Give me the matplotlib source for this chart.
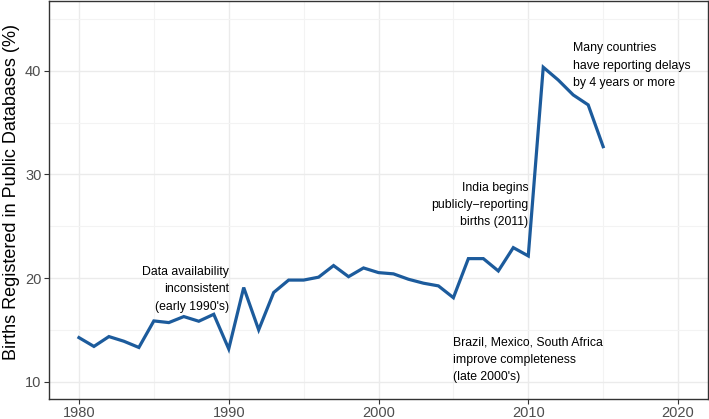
import matplotlib.pyplot as plt
from matplotlib.ticker import MultipleLocator

plt.rcParams["font.family"] = ["Liberation Sans", "DejaVu Sans"]

years = list(range(1980, 2016))
births_pct = [
    14.25, 13.4, 14.35, 13.9, 13.3, 15.86, 15.7, 16.28, 15.83, 16.5,
    13.16, 19.08, 15.0, 18.6, 19.8, 19.8, 20.08, 21.2, 20.13, 20.97,
    20.52, 20.4, 19.88, 19.5, 19.24, 18.1, 21.87, 21.87, 20.68, 22.93,
    22.13, 40.33, 39.1, 37.66, 36.7, 32.67,
]

notes = [
    (1990, 18.9, "Data availability\ninconsistent\n(early 1990's)", "right"),
    (2010, 27.05, "India begins\npublicly\u2212reporting\nbirths (2011)", "right"),
    (2005, 12.1, "Brazil, Mexico, South Africa\nimprove completeness\n(late 2000's)", "left"),
    (2013, 40.47, "Many countries\nhave reporting delays\nby 4 years or more", "left"),
]

fig = plt.figure(figsize=(7.09, 4.19), dpi=100)
ax = fig.add_axes([49 / 709, 19.7 / 419, 659 / 709, 398.3 / 419])

ax.plot(years, births_pct, color="#1c5b9c", linewidth=2.3, solid_joinstyle="miter")

for x, y, txt, ha in notes:
    ax.text(x, y, txt, ha=ha, va="center", fontsize=8.8, color="black", linespacing=1.6)

ax.set_xlim(1978, 2022)
ax.set_ylim(8.3, 46.72)
ax.xaxis.set_major_locator(MultipleLocator(10))
ax.xaxis.set_minor_locator(MultipleLocator(5))
ax.yaxis.set_major_locator(MultipleLocator(10))
ax.yaxis.set_minor_locator(MultipleLocator(5))
ax.grid(which="major", color="#ebebeb", linewidth=1.0)
ax.grid(which="minor", color="#f3f3f3", linewidth=0.8)
ax.set_axisbelow(True)

for s in ax.spines.values():
    s.set_color("#333333")
    s.set_linewidth(1.0)

ax.tick_params(which="major", length=3.5, pad=2, color="#333333",
               labelsize=10.5, labelcolor="#4d4d4d")
ax.tick_params(axis="x", which="major", pad=1.5)
ax.tick_params(which="minor", length=0)
ax.set_ylabel("Births Registered in Public Databases (%)", fontsize=13)
ax.yaxis.set_label_coords(-0.044, 0.52)

fig.savefig("out.png", dpi=100)
